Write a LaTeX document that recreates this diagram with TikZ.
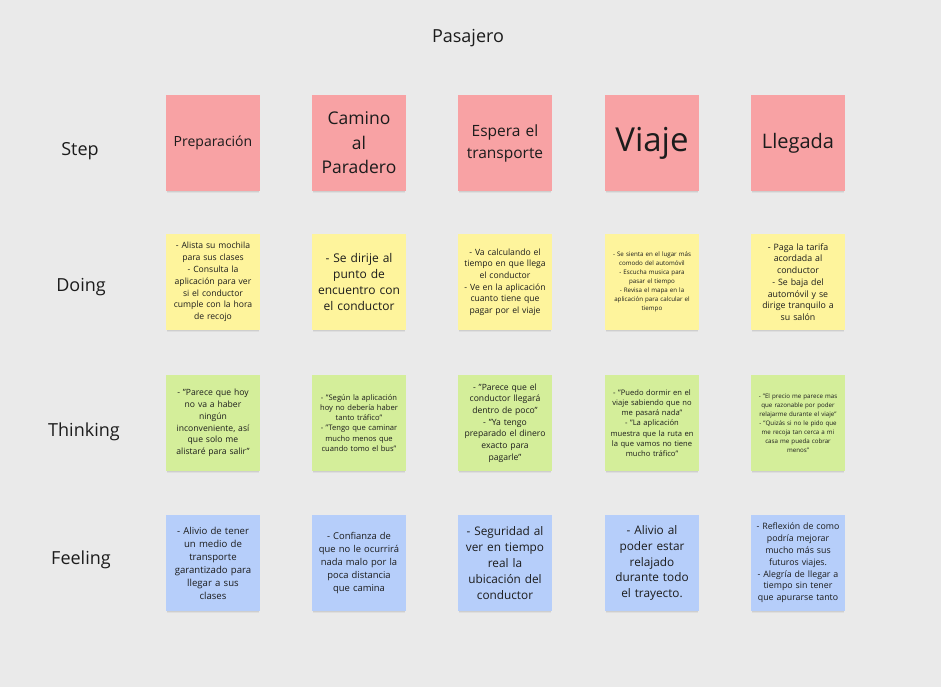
\documentclass[tikz,border=0pt]{standalone}
\usepackage{fontspec}
\setmainfont{Open Sans}
\usetikzlibrary{shadows}
\definecolor{bgc}{HTML}{EAEAEA}
\definecolor{stepc}{HTML}{F8A2A4}
\definecolor{doc}{HTML}{FEF49C}
\definecolor{thinkc}{HTML}{D4EE9A}
\definecolor{feelc}{HTML}{B6CEFA}
\definecolor{inkc}{HTML}{1C1C1C}
\newcommand{\fs}[2]{\fontsize{#1}{#2}\selectfont}
\tikzset{
  sticky/.style={rectangle, minimum width=94pt, minimum height=96pt,
    inner sep=0pt, text width=86pt, align=center, text=inkc,
    drop shadow={shadow xshift=0pt, shadow yshift=-3.5pt, shadow scale=0.97,
      opacity=0.05, fill=black},
    drop shadow={shadow xshift=0pt, shadow yshift=-2pt, shadow scale=0.985,
      opacity=0.07, fill=black}},
  stepnote/.style={sticky, fill=stepc},
  doingnote/.style={sticky, fill=doc},
  thinknote/.style={sticky, fill=thinkc},
  feelnote/.style={sticky, fill=feelc},
  rowlabel/.style={text=inkc, font=\fs{18}{22}, inner sep=0pt},
}
\begin{document}
\begin{tikzpicture}[x=1pt, y=-1pt]
\fill[bgc] (0,0) rectangle (941,687);
\useasboundingbox (0,0) rectangle (941,687);

\node[rowlabel] (title) at (468,38.5) {Pasajero};

\node[rowlabel] (lstep) at (80,151.5) {Step};
\node[rowlabel] (ldoing) at (81,287.5) {Doing};
\node[rowlabel] (lthink) at (84,431.5) {Thinking};
\node[rowlabel] (lfeel) at (81,559.5) {Feeling};

% Step row
\node[stepnote, font=\fs{14}{18}] (s1) at (213,143) {Preparación};
\node[stepnote, font=\fs{17.5}{24.5}] (s2) at (359,143) {Camino\\al\\Paradero};
\node[stepnote, font=\fs{15.5}{22}] (s3) at (505,143) {Espera el\\transporte};
\node[stepnote, font=\fs{33}{36}] (s4) at (652,143) {Viaje};
\node[stepnote, font=\fs{20}{24}] (s5) at (798,143) {Llegada};

% Doing row
\node[doingnote, font=\fs{8.6}{11.8}] (d1) at (213,282) {- Alista su mochila\\para sus clases\\- Consulta la\\aplicación para ver\\si el conductor\\cumple con la hora\\de recojo};
\node[doingnote, font=\fs{12}{16}] (d2) at (359,282) {- Se dirije al\\punto de\\encuentro con\\el conductor};
\node[doingnote, font=\fs{8.6}{11.6}] (d3) at (505,282) {- Va calculando el\\tiempo en que llega\\el conductor\\- Ve en la aplicación\\cuanto tiene que\\pagar por el viaje};
\node[doingnote, font=\fs{6.2}{9}] (d4) at (652,282) {- Se sienta en el lugar más\\comodo del automóvil\\- Escucha musica para\\pasar el tiempo\\- Revisa el mapa en la\\aplicación para calcular el\\tiempo};
\node[doingnote, font=\fs{8.8}{11.7}] (d5) at (798,282) {- Paga la tarifa\\acordada al\\conductor\\- Se baja del\\automóvil y se\\dirige tranquilo a\\su salón};

% Thinking row
\node[thinknote, font=\fs{8.6}{11.8}] (t1) at (213,423) {- "Parece que hoy\\no va a haber\\ningún\\inconveniente, así\\que solo me\\alistaré para salir"};
\node[thinknote, font=\fs{7.6}{10.2}] (t2) at (359,423) {- "Según la aplicación\\hoy no debería haber\\tanto tráfico"\\- "Tengo que caminar\\mucho menos que\\cuando tomo el bus"};
\node[thinknote, font=\fs{8.6}{11.7}] (t3) at (505,423) {- "Parece que el\\conductor llegará\\dentro de poco"\\- "Ya tengo\\preparado el dinero\\exacto para\\pagarle"};
\node[thinknote, font=\fs{7.6}{10.2}] (t4) at (652,423) {- "Puedo dormir en el\\viaje sabiendo que no\\me pasará nada"\\- "La aplicación\\muestra que la ruta en\\la que vamos no tiene\\mucho tráfico"};
\node[thinknote, font=\fs{6.2}{9}] (t5) at (798,423) {- "El precio me parece mas\\que razonable por poder\\relajarme durante el viaje"\\- "Quizás si no le pido que\\me recoja tan cerca a mi\\casa me pueda cobrar\\menos"};

% Feeling row
\node[feelnote, font=\fs{9.6}{13}] (f1) at (213,563) {- Alivio de tener\\un medio de\\transporte\\garantizado para\\llegar a sus\\clases};
\node[feelnote, font=\fs{9.4}{13}] (f2) at (359,563) {- Confianza de\\que no le ocurrirá\\nada malo por la\\poca distancia\\que camina};
\node[feelnote, font=\fs{11.8}{15.8}] (f3) at (505,563) {- Seguridad al\\ver en tiempo\\real la\\ubicación del\\conductor};
\node[feelnote, font=\fs{11.8}{15.8}] (f4) at (652,563) {- Alivio al\\poder estar\\relajado\\durante todo\\el trayecto.};
\node[feelnote, font=\fs{8.8}{11.8}] (f5) at (798,563) {- Reflexión de como\\podría mejorar\\mucho más sus\\futuros viajes.\\- Alegría de llegar a\\tiempo sin tener\\que apurarse tanto};
\end{tikzpicture}
\end{document}
